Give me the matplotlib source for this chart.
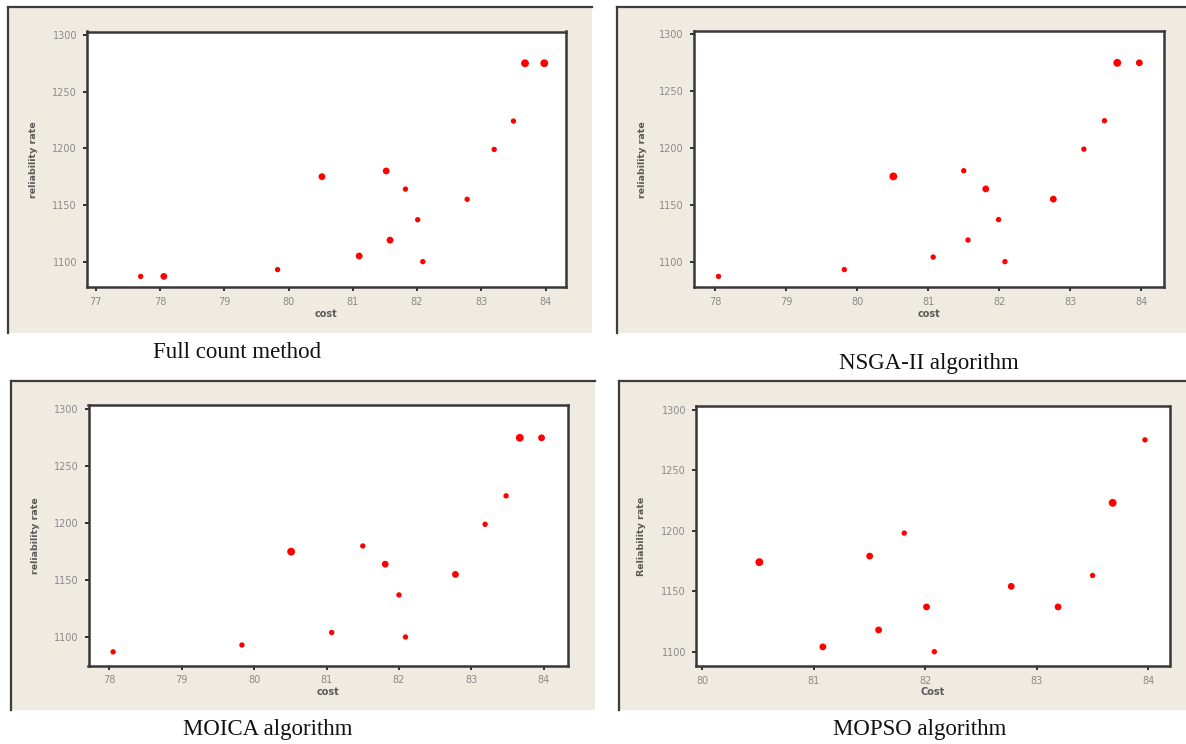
import matplotlib
matplotlib.use("Agg")
import matplotlib.pyplot as plt
from matplotlib.patches import Rectangle
from matplotlib.lines import Line2D

W, H = 1186, 744

# ---- data ----
# dup = number of solutions that fall on the same point (drawn as a bigger dot)
full_cost = [77.70, 78.06, 79.83, 80.52, 81.10, 81.52, 81.58, 81.82, 82.01, 82.09, 82.78, 83.20, 83.50, 83.68, 83.98]
full_rel = [1087, 1087, 1093, 1175, 1105, 1180, 1119, 1164, 1137, 1100, 1155, 1199, 1224, 1275, 1275]
full_dup = [1, 2, 1, 2, 2, 2, 2, 1, 1, 1, 1, 1, 1, 3, 3]

nsga_cost = [78.05, 79.82, 80.51, 81.07, 81.50, 81.56, 81.81, 81.99, 82.08, 82.76, 83.19, 83.48, 83.66, 83.97]
nsga_rel = [1087, 1093, 1175, 1104, 1180, 1119, 1164, 1137, 1100, 1155, 1199, 1224, 1275, 1275]
nsga_dup = [1, 1, 3, 1, 1, 1, 2, 1, 1, 2, 1, 1, 3, 2]

moica_cost = [78.05, 79.83, 80.51, 81.07, 81.50, 81.81, 82.00, 82.09, 82.78, 83.19, 83.48, 83.67, 83.97]
moica_rel = [1087, 1093, 1175, 1104, 1180, 1164, 1137, 1100, 1155, 1199, 1224, 1275, 1275]
moica_dup = [1, 1, 3, 1, 1, 2, 1, 1, 2, 1, 1, 3, 2]

mopso_cost = [80.51, 81.08, 81.50, 81.58, 81.81, 82.01, 82.08, 82.77, 83.19, 83.50, 83.68, 83.97]
mopso_rel = [1174, 1104, 1179, 1118, 1198, 1137, 1100, 1154, 1137, 1163, 1223, 1275]
mopso_dup = [3, 2, 2, 2, 1, 2, 1, 2, 2, 1, 3, 1]

captions = ["Full count method", "NSGA-II algorithm", "MOICA algorithm", "MOPSO algorithm"]
xlabels = ["cost", "cost", "cost", "Cost"]
ylabels = ["reliability rate", "reliability rate", "reliability rate", "Reliability rate"]
xticks = [[77, 78, 79, 80, 81, 82, 83, 84],
          [78, 79, 80, 81, 82, 83, 84],
          [78, 79, 80, 81, 82, 83, 84],
          [80, 81, 82, 83, 84]]
yticks = [1100, 1150, 1200, 1250, 1300]

panels = [
    dict(x=full_cost, y=full_rel, n=full_dup,
         frame=(8, 7, 592, 333), ax=(86.7, 31.5, 565.5, 287.3),
         xlim=(76.86, 84.31), ylim=(1077.4, 1303), cap=(237, 353), ylx=33, xly=314),
    dict(x=nsga_cost, y=nsga_rel, n=nsga_dup,
         frame=(617, 7, 1186, 333), ax=(693.6, 31, 1164.2, 287.3),
         xlim=(77.70, 84.32), ylim=(1077.4, 1303), cap=(929, 363), ylx=642, xly=314),
    dict(x=moica_cost, y=moica_rel, n=moica_dup,
         frame=(11, 381, 595, 710), ax=(88.5, 405, 567.6, 665.5),
         xlim=(77.71, 84.33), ylim=(1075, 1303.8), cap=(268, 730), ylx=36, xly=692),
    dict(x=mopso_cost, y=mopso_rel, n=mopso_dup,
         frame=(619, 381, 1186, 710), ax=(695.8, 406, 1169.5, 666),
         xlim=(79.94, 84.19), ylim=(1088.2, 1303), cap=(920, 730), ylx=641, xly=692),
]

fig = plt.figure(figsize=(W / 100, H / 100), dpi=100)
fig.patch.set_facecolor("white")

beige = "#EFEBE1"
for i, p in enumerate(panels):
    x0, y0, x1, y1 = p["frame"]
    fig.add_artist(Rectangle((x0 / W, 1 - y1 / H), (x1 - x0) / W, (y1 - y0) / H,
                             transform=fig.transFigure, facecolor=beige,
                             edgecolor="none", zorder=0))
    fig.add_artist(Line2D([x0 / W, x0 / W], [1 - y0 / H, 1 - y1 / H],
                          transform=fig.transFigure, color="#3c3c3c", lw=1.6))
    fig.add_artist(Line2D([x0 / W, x1 / W], [1 - y0 / H, 1 - y0 / H],
                          transform=fig.transFigure, color="#3c3c3c", lw=1.6))

    l, t, r, b = p["ax"]
    ax = fig.add_axes([l / W, 1 - b / H, (r - l) / W, (b - t) / H])
    ax.set_facecolor("white")
    sizes = [15 if k == 1 else (24 if k == 2 else 32) for k in p["n"]]
    ax.scatter(p["x"], p["y"], s=sizes, color="#FF0000", edgecolors="none", zorder=3)

    ax.set_xlim(*p["xlim"])
    ax.set_ylim(*p["ylim"])
    ax.set_xticks(xticks[i])
    ax.set_yticks(yticks)
    ax.tick_params(direction="out", length=3, width=1.3, color="#222222",
                   labelsize=7, labelcolor="#8a8a8a", pad=4)
    for s in ax.spines.values():
        s.set_color("#383838")
        s.set_linewidth(1.8)

    fig.text(p["ylx"] / W, 1 - ((t + b) / 2) / H, ylabels[i], rotation=90,
             ha="center", va="center", fontsize=6.8, fontweight="bold", color="#5a5a5a")
    fig.text(((l + r) / 2) / W, 1 - p["xly"] / H, xlabels[i],
             ha="center", va="center", fontsize=7, fontweight="bold", color="#5a5a5a")

    fig.text(p["cap"][0] / W, 1 - p["cap"][1] / H, captions[i], ha="center", va="center",
             fontsize=16.5, family="Liberation Serif", color="#111111")

fig.savefig("out.png", dpi=100)
